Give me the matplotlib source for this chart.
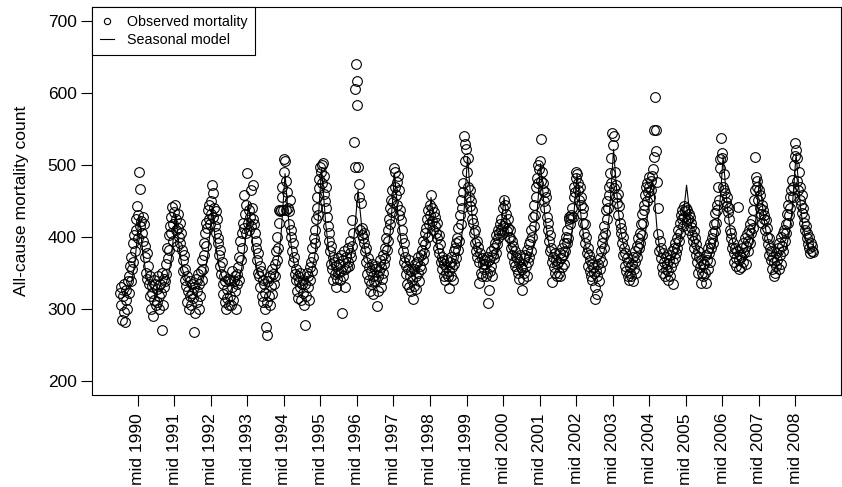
import matplotlib.pyplot as plt
from matplotlib.lines import Line2D
import numpy as np

plt.rcParams['font.family'] = ['Liberation Sans', 'DejaVu Sans']

years = list(range(1990, 2009))
tick_labels = [f'mid {y}' for y in years]

# weekly observed all-cause deaths, one list per year
obs_1990 = [322, 305, 330, 285, 318, 335, 296, 282, 312, 326, 300, 338,
            345, 322, 360, 338, 372, 355, 392, 365,
            402, 380, 425, 410, 443, 398, 430, 490, 415, 467, 422, 405, 428, 395, 418, 388,
            372, 350, 378, 342, 360, 335,
            318, 345, 300, 332, 322, 290, 340, 312, 335, 305]
obs_1991 = [328, 310, 345, 318, 300, 335, 322, 271, 350, 305, 330, 342,
            338, 362, 348, 385, 370, 402, 382, 415,
            428, 405, 442, 418, 395, 435, 445, 410, 425, 388, 432, 412, 400, 420, 392, 405,
            382, 368, 352, 375, 340, 355,
            332, 310, 345, 325, 299, 338, 318, 305, 335, 322]
obs_1992 = [315, 267, 330, 294, 342, 310, 325, 348, 300, 335, 318, 352,
            340, 368, 355, 392, 375, 405, 388, 420,
            412, 438, 425, 445, 418, 432, 450, 472, 428, 461, 440, 415, 436, 405, 425, 398,
            392, 375, 360, 382, 348, 365,
            335, 320, 345, 310, 338, 299, 328, 315, 342, 305]
obs_1993 = [318, 340, 305, 330, 352, 312, 338, 325, 345, 300, 335, 348,
            358, 340, 372, 395, 368, 405, 385, 420,
            458, 412, 432, 405, 445, 489, 420, 438, 410, 428, 465, 415, 440, 472, 425, 418,
            405, 385, 395, 368, 378, 350,
            345, 360, 330, 352, 318, 340, 310, 335, 322, 300]
obs_1994 = [275, 264, 310, 338, 318, 345, 305, 332, 355, 320, 348, 335,
            362, 345, 380, 368, 400, 385, 420, 437,
            436, 438, 455, 470, 437, 490, 509, 505, 478, 437, 462, 440, 418, 436, 452, 410,
            400, 380, 392, 365, 372, 348,
            340, 355, 325, 345, 315, 338, 330, 350, 312, 335]
obs_1995 = [322, 340, 305, 278, 335, 318, 350, 330, 345, 312, 358, 340,
            365, 352, 385, 372, 398, 410, 392, 425,
            440, 455, 430, 480, 468, 497, 490, 500, 475, 503, 460, 485, 450, 470, 440, 428,
            415, 395, 405, 380, 388, 362,
            355, 372, 340, 365, 348, 330, 360, 342, 370, 350]
obs_1996 = [362, 340, 375, 352, 294, 368, 345, 380, 355, 330, 372, 358,
            365, 385, 360, 378, 395, 372, 387, 424,
            405, 532, 498, 606, 640, 617, 583, 498, 456, 474, 410, 447, 402, 412, 398, 405,
            392, 380, 365, 385, 348, 370,
            340, 358, 325, 352, 335, 362, 320, 345, 338, 355]
obs_1997 = [338, 360, 304, 345, 325, 352, 368, 330, 358, 342, 375, 350,
            362, 385, 370, 398, 382, 410, 395, 425,
            440, 418, 452, 435, 465, 448, 496, 470, 490, 458, 476, 445, 485, 430, 465, 438,
            424, 398, 410, 380, 392, 365,
            372, 348, 360, 335, 355, 330, 368, 345, 352, 325]
obs_1998 = [340, 314, 355, 332, 362, 345, 328, 365, 350, 372, 338, 360,
            375, 355, 382, 368, 395, 378, 405, 390,
            412, 425, 400, 438, 418, 430, 445, 458, 422, 440, 410, 435, 415, 428, 405, 420,
            398, 385, 402, 378, 390, 365,
            372, 355, 368, 345, 362, 340, 358, 350, 368, 345]
obs_1999 = [352, 329, 365, 345, 372, 358, 340, 380, 362, 385, 370, 392,
            398, 382, 412, 395, 430, 418, 451, 440,
            462, 475, 540, 530, 505, 522, 490, 510, 470, 455, 465, 443, 450, 425, 438, 420,
            405, 392, 410, 380, 395, 372,
            386, 336, 365, 378, 350, 370, 345, 362, 355, 368]
obs_2000 = [362, 345, 372, 350, 308, 326, 368, 352, 380, 360, 345, 375,
            385, 370, 392, 378, 402, 390, 410, 398,
            405, 418, 410, 425, 404, 440, 415, 451, 445, 420, 432, 408, 412, 425, 400, 410,
            398, 385, 395, 375, 388, 365,
            380, 360, 372, 355, 370, 350, 365, 342, 375, 358]
obs_2001 = [326, 355, 342, 370, 350, 375, 360, 345, 382, 365, 390, 372,
            395, 380, 410, 400, 428, 415, 445, 430,
            455, 470, 482, 500, 475, 495, 505, 478, 536, 490, 465, 475, 450, 462, 440, 455,
            428, 410, 420, 395, 402, 380,
            385, 365, 337, 372, 358, 378, 350, 368, 345, 362]
obs_2002 = [365, 350, 378, 345, 370, 385, 358, 375, 392, 362, 380, 400,
            392, 410, 398, 425, 428, 418, 430, 426,
            440, 428, 455, 470, 462, 482, 490, 488, 475, 465, 452, 470, 445, 455, 432, 440,
            420, 405, 418, 392, 400, 378,
            385, 360, 375, 352, 368, 345, 362, 340, 358, 350]
obs_2003 = [330, 313, 352, 320, 345, 362, 338, 370, 355, 380, 365, 392,
            400, 385, 415, 405, 437, 425, 450, 440,
            470, 458, 489, 510, 475, 544, 528, 540, 468, 490, 455, 472, 447, 460, 430, 443,
            420, 405, 412, 392, 400, 375,
            385, 360, 378, 352, 370, 345, 365, 340, 358, 350]
obs_2004 = [345, 362, 338, 372, 355, 380, 365, 350, 388, 372, 398, 385,
            405, 392, 418, 402, 432, 420, 445, 438,
            458, 470, 450, 475, 462, 483, 470, 455, 478, 465, 485, 495, 511, 549, 595, 549,
            520, 476, 440, 404, 380, 395,
            370, 385, 358, 378, 350, 365, 345, 372, 355, 362]
obs_2005 = [352, 340, 368, 345, 375, 358, 380, 335, 365, 385, 370, 392,
            378, 398, 385, 410, 395, 420, 405, 430,
            425, 437, 415, 443, 428, 436, 440, 422, 438, 425, 432, 410, 428, 414, 420, 402,
            395, 408, 385, 398, 375, 390,
            365, 380, 350, 372, 358, 336, 368, 350, 362, 345]
obs_2006 = [362, 350, 375, 336, 368, 385, 355, 378, 392, 365, 385, 398,
            405, 392, 418, 408, 433, 420, 445, 438,
            470, 452, 496, 508, 538, 517, 510, 470, 488, 465, 461, 448, 455, 443, 435, 440,
            425, 410, 398, 405, 385, 392,
            378, 365, 385, 370, 360, 380, 441, 368, 355, 375]
obs_2007 = [372, 358, 385, 365, 392, 378, 398, 362, 388, 404, 380, 395,
            410, 392, 418, 405, 424, 412, 438, 451,
            465, 511, 483, 470, 478, 451, 465, 440, 458, 432, 445, 419, 438, 425, 430, 410,
            424, 400, 412, 390, 398, 375,
            385, 368, 380, 355, 372, 345, 365, 350, 378, 360]
obs_2008 = [368, 385, 355, 392, 375, 400, 362, 388, 405, 380, 410, 395,
            418, 405, 432, 420, 445, 430, 456, 440,
            465, 479, 455, 470, 500, 512, 531, 521, 510, 478, 465, 490, 451, 470, 445, 458,
            433, 440, 420, 428, 410, 415,
            398, 405, 390, 385, 400, 378, 392, 380, 388, 379]

# fitted seasonal model, sampled at these weeks of each year
model_weeks = [2, 8, 14, 18, 22, 25, 28, 31, 34, 38, 42, 47, 52]
model_1990 = [320, 318, 327, 340, 364, 395, 428, 400, 373, 349, 334, 326, 321]
model_1991 = [327, 325, 334, 346, 370, 400, 432, 405, 378, 355, 341, 332, 328]
model_1992 = [330, 328, 337, 350, 375, 406, 440, 412, 384, 359, 345, 336, 331]
model_1993 = [334, 332, 341, 355, 381, 413, 448, 419, 390, 364, 349, 340, 335]
model_1994 = [338, 335, 347, 366, 399, 442, 488, 450, 412, 378, 358, 346, 340]
model_1995 = [343, 340, 352, 371, 405, 449, 495, 456, 418, 383, 363, 351, 345]
model_1996 = [350, 348, 357, 371, 397, 430, 465, 436, 407, 381, 366, 356, 351]
model_1997 = [353, 350, 361, 378, 408, 447, 488, 454, 419, 389, 371, 360, 354]
model_1998 = [354, 352, 360, 373, 395, 424, 455, 429, 404, 381, 367, 359, 355]
model_1999 = [358, 355, 368, 386, 421, 465, 512, 473, 434, 399, 379, 366, 360]
model_2000 = [360, 358, 366, 377, 399, 426, 455, 431, 407, 385, 373, 365, 361]
model_2001 = [363, 360, 371, 388, 420, 459, 502, 467, 431, 400, 381, 370, 364]
model_2002 = [365, 362, 372, 387, 415, 450, 488, 457, 425, 397, 381, 371, 366]
model_2003 = [368, 365, 378, 396, 431, 475, 522, 483, 444, 409, 389, 376, 370]
model_2004 = [368, 365, 374, 388, 410, 435, 462, 480, 458, 410, 382, 372, 368]
model_2005 = [370, 368, 377, 390, 415, 445, 472, 446, 420, 397, 384, 375, 371]
model_2006 = [373, 370, 381, 398, 429, 467, 512, 477, 442, 411, 392, 380, 374]
model_2007 = [375, 372, 381, 394, 418, 449, 482, 455, 427, 403, 389, 380, 376]
model_2008 = [378, 375, 386, 403, 434, 473, 515, 480, 445, 414, 396, 385, 379]

obs_by_year = [obs_1990, obs_1991, obs_1992, obs_1993, obs_1994, obs_1995,
               obs_1996, obs_1997, obs_1998, obs_1999, obs_2000, obs_2001,
               obs_2002, obs_2003, obs_2004, obs_2005, obs_2006, obs_2007,
               obs_2008]
model_by_year = [model_1990, model_1991, model_1992, model_1993, model_1994,
                 model_1995, model_1996, model_1997, model_1998, model_1999,
                 model_2000, model_2001, model_2002, model_2003, model_2004,
                 model_2005, model_2006, model_2007, model_2008]

obs_x, obs_y, mod_x, mod_y = [], [], [], []
for yr, vals in zip(years, obs_by_year):
    obs_x.extend(yr + (np.arange(len(vals)) + 0.5) / 52)
    obs_y.extend(vals)
for yr, vals in zip(years, model_by_year):
    mod_x.extend(yr + (np.array(model_weeks) - 0.5) / 52)
    mod_y.extend(vals)

fig = plt.figure(figsize=(8.42, 4.87), dpi=100)
ax = fig.add_axes([92 / 842, 1 - 395 / 487, 749 / 842, 388 / 487])

ax.plot(obs_x, obs_y, 'o', mfc='none', mec='black', ms=7, mew=0.8)
ax.plot(mod_x, mod_y, '-', color='black', lw=0.8)

ax.set_xlim(1990 - 0.76, 2009 + 0.76)
ax.set_ylim(180, 720)
ax.set_yticks([200, 300, 400, 500, 600, 700])
ax.set_xticks([y + 0.5 for y in years])
ax.set_xticklabels(tick_labels, rotation=90, va='top', ha='center')
ax.tick_params(axis='both', labelsize=12.5, length=8, width=0.8, color='black')
ax.tick_params(axis='x', pad=5)
ax.tick_params(axis='y', pad=3)
for sp in ax.spines.values():
    sp.set_linewidth(0.8)

fig.text(22 / 842, 1 - 201 / 487, 'All-cause mortality count', rotation=90,
         ha='center', va='center', fontsize=12.6)

handles = [Line2D([], [], ls='none', marker='o', mfc='none', mec='black', ms=4.5, mew=0.8),
           Line2D([], [], color='black', lw=0.8)]
leg = ax.legend(handles, ['Observed mortality', 'Seasonal model'], loc='upper left',
                borderaxespad=0, fancybox=False, framealpha=1, edgecolor='black',
                fontsize=10.3, handlelength=1.0, handletextpad=0.9,
                borderpad=0.55, labelspacing=0.3)
leg.get_frame().set_linewidth(0.8)

fig.savefig('out.png', dpi=100)
